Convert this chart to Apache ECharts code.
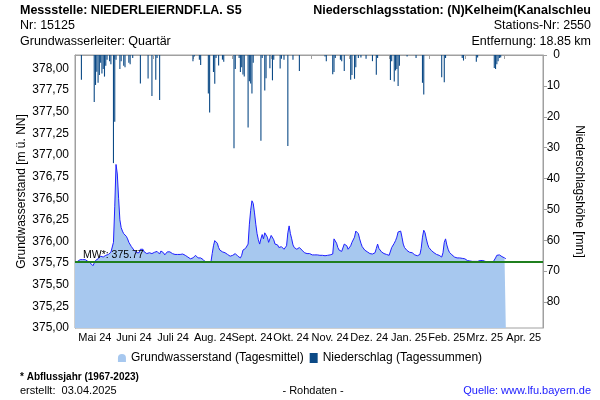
<!DOCTYPE html>
<html><head><meta charset="utf-8">
<script src="https://cdn.jsdelivr.net/npm/echarts@6/dist/echarts.min.js"></script>
<style>html,body{margin:0;padding:0;background:#fff}#c{width:600px;height:400px}</style>
</head><body><div id="c"></div><script>
// ---- data ----
const monthLabels = ['Mai 24','Juni 24','Juli 24','Aug. 24','Sept. 24','Okt. 24','Nov. 24','Dez. 24','Jan. 25','Feb. 25','Mrz. 25','Apr. 25'];
const leftTicks = [375.00,375.25,375.50,375.75,376.00,376.25,376.50,376.75,377.00,377.25,377.50,377.75,378.00];
const mwValue = 375.77;
// Groundwater level (daily mean) starting 01.05.2024
const gwMay24 = [375.76,375.77,375.77,375.78,375.79,375.79,375.79,375.79,375.79,375.78,375.77,375.76,375.75,375.74,375.72,375.75,375.78,375.79,375.80,375.81,375.83,375.83,375.82,375.83,375.84,375.855,375.85,375.87,375.875,375.88,375.99];
const gwJun24 = [376.40,376.89,376.78,376.50,376.25,376.16,376.12,376.09,376.08,376.06,376.03,375.99,375.97,375.94,375.92,375.90,375.88,375.87,375.86,375.87,375.91,375.92,375.91,375.88,375.87,375.86,375.865,375.87,375.86,375.86];
const gwJul24 = [375.88,375.875,375.89,375.885,375.87,375.855,375.89,375.90,375.87,375.845,375.85,375.88,375.895,375.88,375.875,375.86,375.855,375.85,375.85,375.85,375.85,375.85,375.86,375.855,375.85,375.84,375.83,375.82,375.81,375.80,375.80];
const gwAug24 = [375.81,375.83,375.84,375.83,375.81,375.80,375.81,375.80,375.79,375.77,375.76,375.76,375.76,375.76,375.76,375.86,375.95,376.01,376.03,375.98,375.93,375.90,375.88,375.88,375.875,375.87,375.86,375.85,375.84,375.83,375.82];
const gwSep24 = [375.84,375.85,375.86,375.85,375.83,375.83,375.81,375.84,375.90,375.91,375.92,375.94,375.97,376.20,376.36,376.47,376.44,376.33,376.20,376.09,376.02,375.97,376.03,376.08,376.03,376.10,376.11,376.05,375.99,376.03];
const gwOct24 = [376.07,376.06,376.02,375.97,375.97,375.96,375.93,375.91,375.94,375.94,375.91,375.92,375.95,376.10,376.18,376.09,376.03,375.96,375.93,375.91,375.91,375.92,375.93,375.91,375.90,375.88,375.87,375.86,375.86,375.86,375.86];
const gwNov24 = [375.85,375.845,375.845,375.845,375.845,375.845,375.845,375.84,375.84,375.84,375.84,375.835,375.82,375.84,375.84,375.845,375.85,375.855,376.03,376.04,375.98,375.93,375.90,375.89,375.885,375.88,375.97,375.99,375.95,375.91];
const gwDec24 = [375.91,375.95,375.99,376.01,376.05,376.12,376.14,376.09,376.03,375.98,375.94,375.92,375.90,375.895,375.88,375.87,375.86,375.855,375.855,375.85,375.87,375.92,375.97,375.92,375.90,375.88,375.87,375.86,375.855,375.85,375.845];
const gwJan25 = [375.84,375.83,375.93,375.94,375.98,376.01,376.05,376.11,376.13,376.12,376.05,375.97,375.93,375.91,375.895,375.88,375.875,375.87,375.87,375.855,375.845,375.84,375.835,375.83,375.85,375.92,376.05,376.13,376.10,376.03,375.97];
const gwFeb25 = [375.93,375.91,375.895,375.88,375.87,375.86,375.85,375.845,375.84,375.83,375.82,375.87,375.99,376.03,375.96,375.91,375.875,375.86,375.845,375.83,375.82,375.815,375.81,375.81,375.81,375.81,375.805,375.80];
const gwMar25 = [375.80,375.79,375.78,375.78,375.775,375.77,375.77,375.77,375.77,375.77,375.77,375.78,375.78,375.78,375.78,375.78,375.77,375.77,375.765,375.76,375.76,375.76,375.76,375.78,375.81,375.84,375.85,375.845,375.84,375.825,375.82];
const gwApr25 = [375.81,375.80];
// Precipitation (daily sums): day number counted from 01.05.2024, and mm
const rainDay = [5,15,16,17,18,19,20,21,22,23,24,25,27,28,30,31,32,35,36,38,39,42,43,45,51,57,60,63,64,66,92,93,97,98,104,105,108,109,110,112,115,116,124,125,128,129,130,131,132,135,136,137,138,139,145,146,148,149,152,154,155,160,161,163,166,170,175,195,196,201,202,203,207,208,210,215,216,218,219,221,223,227,232,235,236,246,247,249,250,251,252,253,259,266,271,272,286,288,289,302,303,313,314,327,328,329,330,331,332];
const rainMm  = [8.0,15.2,9.7,5.4,9.0,6.5,2.5,6.0,4.5,7.0,3.5,1.5,2.0,3.0,35.0,21.6,1.5,4.5,2.0,3.5,4.0,2.5,3.0,1.0,9.2,7.6,13.3,8.0,1.0,14.6,2.0,0.5,1.5,3.2,12.5,18.6,5.5,9.3,1.0,3.4,1.5,2.2,30.2,4.5,1.0,5.5,4.0,6.3,7.0,23.5,8.5,9.2,12.5,2.5,27.8,1.0,11.5,7.5,4.3,8.2,1.5,4.4,1.2,1.5,29.5,1.5,5.2,0.5,2.0,6.2,5.5,1.0,1.5,2.0,5.2,8.0,6.5,7.7,4.0,1.0,0.8,1.2,2.0,6.4,1.0,8.1,2.0,8.6,5.0,4.5,10.0,3.5,0.5,1.0,9.0,12.8,7.2,8.8,1.0,1.0,1.8,2.2,0.8,4.2,4.5,3.0,2.0,1.0,0.8];

// ---- build ----
const DAY = 86400000;
const start = Date.UTC(2024, 4, 1);
const monthStarts = [];
for (let i = 0; i <= 12; i++) monthStarts.push(Math.round((Date.UTC(2024, 4 + i, 1) - start) / DAY));
const labelPos = monthLabels.map((_, i) => (monthStarts[i] + monthStarts[i + 1]) / 2);
const gwAll = [].concat(gwMay24, gwJun24, gwJul24, gwAug24, gwSep24, gwOct24, gwNov24, gwDec24, gwJan25, gwFeb25, gwMar25, gwApr25);
const gwData = gwAll.map((v, i) => [i, v]);
const rainData = rainDay.map((d, i) => [d, rainMm[i]]);

const FONT = '"Liberation Sans", Arial, Helvetica, sans-serif';
const AX = '#a0a0a0';
const chart = echarts.init(document.getElementById('c'));
const txt = (x, y, text, opts) => ({type: 'text', x: x, y: y, style: Object.assign({text: text, font: '12.5px ' + FONT, fill: '#000', textVerticalAlign: 'middle'}, opts || {})});

chart.setOption({
  animation: false,
  textStyle: {fontFamily: FONT},
  grid: {left: 75, right: 57, top: 55, bottom: 72, show: true, borderColor: AX, borderWidth: 1, backgroundColor: 'transparent'},
  legend: {
    top: 352, left: 'center', itemWidth: 8, itemHeight: 10, itemGap: 6, padding: 0,
    textStyle: {fontSize: 12, color: '#000', fontFamily: FONT},
    data: [
      {name: 'Grundwasserstand (Tagesmittel)', icon: 'path://M0,10 L0,5 Q0,0 5,0 Q10,0 10,5 L10,10 Z', itemStyle: {color: '#a7c8ef'}},
      {name: 'Niederschlag (Tagessummen)', icon: 'rect', itemStyle: {color: '#0c4a86'}}
    ]
  },
  xAxis: {
    type: 'value', min: monthStarts[0], max: monthStarts[12],
    axisLine: {lineStyle: {color: AX}},
    axisTick: {show: true, customValues: monthStarts, length: 4, lineStyle: {color: AX}},
    splitLine: {show: false},
    axisLabel: {
      customValues: labelPos, fontSize: 11, color: '#000', margin: 4, hideOverlap: false,
      formatter: function (v) {
        let best = 0;
        for (let i = 0; i < labelPos.length; i++) if (Math.abs(labelPos[i] - v) < Math.abs(labelPos[best] - v)) best = i;
        return monthLabels[best];
      }
    }
  },
  yAxis: [
    {
      type: 'value', min: leftTicks[0], max: 378.155, interval: 0.25, position: 'left',
      name: 'Grundwasserstand [m ü. NN]', nameLocation: 'middle', nameGap: 47, nameMoveOverlap: false,
      nameTextStyle: {fontSize: 12, color: '#000'},
      axisLine: {show: true, lineStyle: {color: AX}}, axisTick: {show: false}, splitLine: {show: false},
      axisLabel: {fontSize: 12, color: '#000', margin: 6, showMaxLabel: false, formatter: v => v.toFixed(2).replace('.', ',')}
    },
    {
      type: 'value', min: 0, max: 88.4, interval: 10, inverse: true, position: 'right',
      name: 'Niederschlagshöhe [mm]', nameLocation: 'middle', nameGap: 30, nameRotate: -90, nameMoveOverlap: false,
      nameTextStyle: {fontSize: 12, color: '#000'},
      axisLine: {show: true, lineStyle: {color: AX}}, axisTick: {show: true, length: 4, lineStyle: {color: AX}}, splitLine: {show: false},
      axisLabel: {fontSize: 12, color: '#000', margin: 17, align: 'right', showMaxLabel: false}
    }
  ],
  series: [
    {
      name: 'Grundwasserstand (Tagesmittel)', type: 'line', yAxisIndex: 0, data: gwData,
      showSymbol: false, symbol: 'none', lineStyle: {color: '#1f1fff', width: 1}, itemStyle: {color: '#a7c8ef'},
      areaStyle: {color: '#a7c8ef', opacity: 1, origin: 'start'},
      markLine: {
        silent: true, symbol: 'none', animation: false,
        lineStyle: {color: '#1f7f1f', width: 2, type: 'solid'},
        label: {show: true, position: 'insideStartTop', formatter: 'MW*: ' + mwValue.toFixed(2), color: '#000', fontSize: 10.5, distance: [8, 1]},
        data: [{yAxis: mwValue}]
      }
    },
    {
      name: 'Niederschlag (Tagessummen)', type: 'bar', yAxisIndex: 1, data: rainData,
      barWidth: 1.1, itemStyle: {color: '#0c4a86'}
    }
  ],
  graphic: [
    txt(20, 11, 'Messstelle: NIEDERLEIERNDF.LA. S5', {font: 'bold 12.5px ' + FONT}),
    txt(20, 26, 'Nr: 15125'),
    txt(20, 42, 'Grundwasserleiter: Quartär'),
    txt(591, 11, 'Niederschlagsstation: (N)Kelheim(Kanalschleu', {font: 'bold 12.5px ' + FONT, textAlign: 'right'}),
    txt(591, 26, 'Stations-Nr: 2550', {textAlign: 'right'}),
    txt(591, 42, 'Entfernung: 18.85 km', {textAlign: 'right'}),
    txt(20, 377, '* Abflussjahr (1967-2023)', {font: 'bold 10px ' + FONT}),
    txt(20, 391, 'erstellt:  03.04.2025', {font: '11px ' + FONT}),
    txt(313, 391, '- Rohdaten -', {font: '11px ' + FONT, textAlign: 'center'}),
    txt(591, 391, 'Quelle: www.lfu.bayern.de', {font: '11px ' + FONT, fill: '#1a1aff', textAlign: 'right'})
  ]
});
</script></body></html>
